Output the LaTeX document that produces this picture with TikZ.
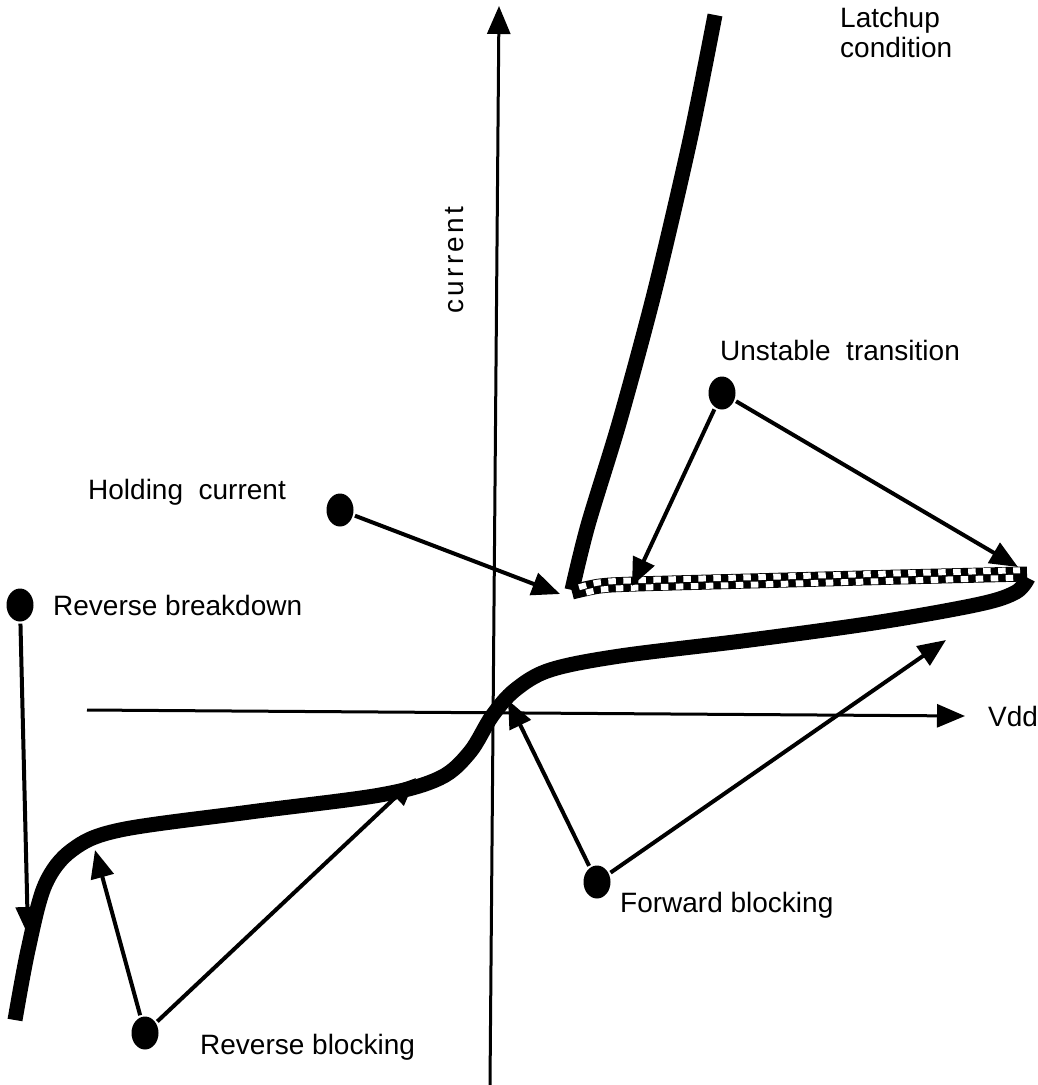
\documentclass[tikz,border=0pt]{standalone}
\usepackage{fontspec}
\setmainfont{Liberation Sans}
\usetikzlibrary{arrows.meta,shapes.geometric}

\begin{document}
\begin{tikzpicture}[x=1pt,y=-1pt,
	label_text/.style={font=\fontsize{28}{32}\selectfont,inner sep=0pt},
	dot/.style={ellipse,fill=black,minimum width=27pt,minimum height=33pt,inner sep=0pt},
	pointer/.style={line width=4pt,-{Triangle[length=28pt,width=23pt]},shorten <=2pt},
	axis/.style={line width=3pt,-{Triangle[length=28pt,width=23pt]}},
	heavy/.style={line width=15pt}]
	\useasboundingbox (0,0) rectangle (1037,1085);
	% axes
	\coordinate (ox) at (87,710);
	\coordinate (vx) at (965,716);
	\coordinate (oy) at (490,1085);
	\coordinate (vy) at (499,6);
	\draw [axis] (ox) -- (vx);
	\draw [axis] (oy) -- (vy);
	\node [label_text,anchor=west] (vdd) at (988,716) {Vdd};
	\node [label_text,rotate=90] (cur) at (455,260) {\addfontfeatures{LetterSpace=12}current};
	% characteristic
	\draw [heavy] plot [smooth,tension=0.55] coordinates {(15,1020) (28,950) (45,885) (72,850) (120,830) (250,812) (380,795) (440,778) (470,752) (492,716) (515,690) (550,670) (620,656) (750,640) (880,622) (980,604) (1016,592) (1028,578)};
	\draw [heavy] plot [smooth,tension=0.5] coordinates {(715,15) (690,140) (655,290) (620,420) (588,525) (572,590)};
	\draw [line width=15pt] plot [smooth,tension=0.5] coordinates {(572,592) (600,586) (636,584) (750,581) (900,577) (1027,574)};
	\draw [white,line width=6pt,dash pattern=on 7.5pt off 7.5pt,transform canvas={yshift=3.7pt}] plot [smooth,tension=0.5] coordinates {(579,591) (600,586) (636,584) (750,581) (900,577) (1020,574)};
	\draw [white,line width=6pt,dash pattern=on 7.5pt off 7.5pt,dash phase=7.5pt,transform canvas={yshift=-3.7pt}] plot [smooth,tension=0.5] coordinates {(579,591) (600,586) (636,584) (750,581) (900,577) (1020,574)};
	% labels and dots
	\node [label_text,anchor=west,align=left] (latch) at (840,32) {Latchup\\[-2pt]condition};
	\node [label_text,anchor=west] (unst) at (720,350) {Unstable~~transition};
	\node [dot] (d_unst) at (722,393) {};
	\node [label_text,anchor=west] (hold) at (88,492) {Holding~~current};
	\node [dot] (d_hold) at (340,510) {};
	\node [label_text,anchor=west] (rbd) at (53,605) {Reverse breakdown};
	\node [dot] (d_rbd) at (20,605) {};
	\node [dot] (d_fwd) at (597,882) {};
	\node [label_text,anchor=west] (fwd) at (620,905) {Forward blocking};
	\node [dot] (d_rev) at (145,1033) {};
	\node [label_text,anchor=west] (rev) at (200,1047) {Reverse blocking};
	% targets
	\coordinate (t_unst1) at (632,586);
	\coordinate (t_unst2) at (1018,567);
	\coordinate (t_hold) at (560,594);
	\coordinate (t_rbd) at (28,935);
	\coordinate (t_fwd1) at (508,700);
	\coordinate (t_fwd2) at (946,640);
	\coordinate (t_rev1) at (95,850);
	\coordinate (t_rev2) at (416,778);
	\draw [pointer] (d_unst) -- (t_unst1);
	\draw [pointer] (d_unst) -- (t_unst2);
	\draw [pointer] (d_hold) -- (t_hold);
	\draw [pointer] (d_rbd) -- (t_rbd);
	\draw [pointer] (d_fwd) -- (t_fwd1);
	\draw [pointer] (d_fwd) -- (t_fwd2);
	\draw [pointer] (d_rev) -- (t_rev1);
	\draw [pointer] (d_rev) -- (t_rev2);
\end{tikzpicture}
\end{document}
